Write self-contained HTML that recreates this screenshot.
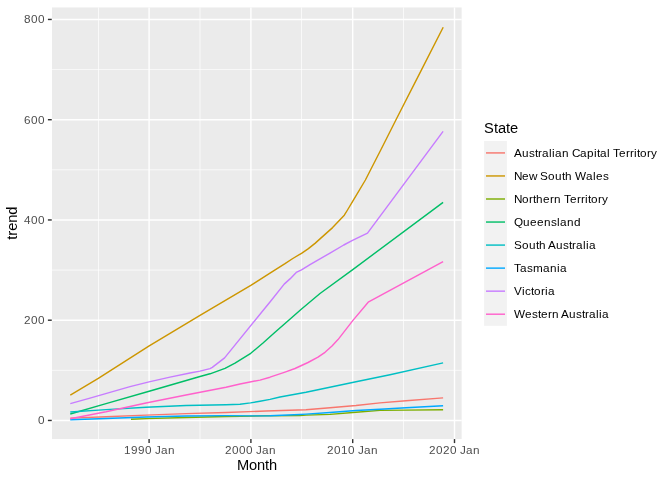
<!DOCTYPE html>
<html><head><meta charset="utf-8"><style>
html,body{margin:0;padding:0;background:#fff;width:672px;height:480px;overflow:hidden}
svg{display:block;font-family:"Liberation Sans",sans-serif;will-change:transform}
</style></head><body>
<svg width="672" height="480" viewBox="0 0 672 480">
<rect x="0" y="0" width="672" height="480" fill="#FFFFFF"/>
<rect x="52.0" y="7.45" width="409.65" height="431.60" fill="#EBEBEB"/>
<line x1="52.0" x2="461.65" y1="370.32" y2="370.32" stroke="#FFFFFF" stroke-width="0.71"/>
<line x1="52.0" x2="461.65" y1="270.07" y2="270.07" stroke="#FFFFFF" stroke-width="0.71"/>
<line x1="52.0" x2="461.65" y1="169.82" y2="169.82" stroke="#FFFFFF" stroke-width="0.71"/>
<line x1="52.0" x2="461.65" y1="69.57" y2="69.57" stroke="#FFFFFF" stroke-width="0.71"/>
<line y1="7.45" y2="439.05" x1="98.50" x2="98.50" stroke="#FFFFFF" stroke-width="0.71"/>
<line y1="7.45" y2="439.05" x1="200.00" x2="200.00" stroke="#FFFFFF" stroke-width="0.71"/>
<line y1="7.45" y2="439.05" x1="301.50" x2="301.50" stroke="#FFFFFF" stroke-width="0.71"/>
<line y1="7.45" y2="439.05" x1="403.50" x2="403.50" stroke="#FFFFFF" stroke-width="0.71"/>
<line x1="52.0" x2="461.65" y1="420.45" y2="420.45" stroke="#FFFFFF" stroke-width="1.42"/>
<line x1="52.0" x2="461.65" y1="320.20" y2="320.20" stroke="#FFFFFF" stroke-width="1.42"/>
<line x1="52.0" x2="461.65" y1="219.95" y2="219.95" stroke="#FFFFFF" stroke-width="1.42"/>
<line x1="52.0" x2="461.65" y1="119.70" y2="119.70" stroke="#FFFFFF" stroke-width="1.42"/>
<line x1="52.0" x2="461.65" y1="19.45" y2="19.45" stroke="#FFFFFF" stroke-width="1.42"/>
<line y1="7.45" y2="439.05" x1="149.10" x2="149.10" stroke="#FFFFFF" stroke-width="1.42"/>
<line y1="7.45" y2="439.05" x1="250.90" x2="250.90" stroke="#FFFFFF" stroke-width="1.42"/>
<line y1="7.45" y2="439.05" x1="352.70" x2="352.70" stroke="#FFFFFF" stroke-width="1.42"/>
<line y1="7.45" y2="439.05" x1="454.50" x2="454.50" stroke="#FFFFFF" stroke-width="1.42"/>
<polyline points="70.25,418.10 106.00,416.70 146.00,415.15 186.00,413.60 226.00,412.45 266.00,411.00 306.00,409.80 330.00,407.80 356.00,405.55 380.00,402.90 406.00,400.80 443.10,397.90" fill="none" stroke="#F8766D" stroke-width="1.42" stroke-linejoin="round" stroke-linecap="butt"/>
<polyline points="70.30,395.10 98.30,378.40 148.80,346.20 200.00,315.30 250.80,285.40 270.00,273.10 285.00,263.70 292.80,258.50 301.50,253.30 308.40,248.60 315.00,243.40 320.00,238.90 332.60,227.60 344.30,215.20 347.50,210.00 352.50,201.60 365.40,180.00 370.75,169.50 380.75,150.00 396.00,119.70 421.60,69.60 443.20,27.30" fill="none" stroke="#CD9600" stroke-width="1.42" stroke-linejoin="round" stroke-linecap="butt"/>
<polyline points="131.00,419.20 146.00,418.60 186.00,417.50 226.00,416.45 266.00,415.80 300.00,415.50 306.00,415.10 330.00,414.40 356.00,412.30 380.00,410.40 406.00,410.10 443.10,409.80" fill="none" stroke="#7CAE00" stroke-width="1.42" stroke-linejoin="round" stroke-linecap="butt"/>
<polyline points="70.25,414.00 106.00,403.60 150.00,391.00 200.00,376.50 210.00,373.80 225.00,368.30 235.00,363.10 250.75,353.30 263.00,343.00 275.00,332.20 289.30,319.70 301.25,309.20 320.00,293.50 352.75,269.60 443.10,202.40" fill="none" stroke="#00BE67" stroke-width="1.42" stroke-linejoin="round" stroke-linecap="butt"/>
<polyline points="70.25,412.00 106.00,409.60 146.00,407.20 186.00,405.50 226.00,404.70 240.00,404.20 250.50,402.90 260.00,401.25 270.00,399.40 280.00,397.00 306.00,392.30 356.00,381.80 390.00,374.80 443.10,362.90" fill="none" stroke="#00BFC4" stroke-width="1.42" stroke-linejoin="round" stroke-linecap="butt"/>
<polyline points="70.25,419.70 106.00,418.55 146.00,417.05 186.00,415.95 226.00,415.60 250.80,415.90 270.00,415.80 300.00,414.45 306.00,414.10 330.00,412.50 356.00,410.50 380.00,409.30 406.00,407.70 443.10,405.70" fill="none" stroke="#00A9FF" stroke-width="1.42" stroke-linejoin="round" stroke-linecap="butt"/>
<polyline points="70.30,403.60 90.00,398.10 130.00,386.60 149.06,381.90 170.00,377.10 190.00,372.96 200.00,371.10 210.00,368.60 212.30,367.40 224.60,357.90 271.40,300.20 284.20,284.10 290.00,278.90 296.25,272.40 301.50,269.90 310.00,264.60 330.00,253.10 343.75,245.00 352.50,240.30 367.50,233.10 443.10,131.40" fill="none" stroke="#C77CFF" stroke-width="1.42" stroke-linejoin="round" stroke-linecap="butt"/>
<polyline points="70.25,418.75 106.00,411.80 146.00,403.00 186.00,395.00 226.00,387.20 240.00,384.00 250.00,381.96 260.00,380.10 270.00,377.20 285.00,372.10 295.00,368.50 308.00,362.50 318.00,357.20 325.00,352.30 332.00,346.00 338.00,339.60 352.75,320.60 368.20,302.20 443.10,261.60" fill="none" stroke="#FF61CC" stroke-width="1.42" stroke-linejoin="round" stroke-linecap="butt"/>
<line x1="47.9" x2="51.75" y1="420.45" y2="420.45" stroke="#333333" stroke-width="1.42"/>
<line x1="47.9" x2="51.75" y1="320.20" y2="320.20" stroke="#333333" stroke-width="1.42"/>
<line x1="47.9" x2="51.75" y1="219.95" y2="219.95" stroke="#333333" stroke-width="1.42"/>
<line x1="47.9" x2="51.75" y1="119.70" y2="119.70" stroke="#333333" stroke-width="1.42"/>
<line x1="47.9" x2="51.75" y1="19.45" y2="19.45" stroke="#333333" stroke-width="1.42"/>
<line y1="439.1" y2="443.1" x1="149.10" x2="149.10" stroke="#333333" stroke-width="1.42"/>
<line y1="439.1" y2="443.1" x1="250.90" x2="250.90" stroke="#333333" stroke-width="1.42"/>
<line y1="439.1" y2="443.1" x1="352.70" x2="352.70" stroke="#333333" stroke-width="1.42"/>
<line y1="439.1" y2="443.1" x1="454.50" x2="454.50" stroke="#333333" stroke-width="1.42"/>
<text x="38.00" y="424.00" font-size="11.73" fill="#4D4D4D">0</text>
<text x="24.00 31.00 38.00" y="324.00" font-size="11.73" fill="#4D4D4D">200</text>
<text x="24.00 31.00 38.00" y="224.00" font-size="11.73" fill="#4D4D4D">400</text>
<text x="24.00 31.00 38.00" y="124.00" font-size="11.73" fill="#4D4D4D">600</text>
<text x="24.00 31.00 38.00" y="23.00" font-size="11.73" fill="#4D4D4D">800</text>
<text x="124.00 131.00 138.00 145.00 152.00 155.00 161.00 168.00" y="453.90" font-size="11.73" fill="#4D4D4D">1990 Jan</text>
<text x="225.00 232.00 239.00 246.00 253.00 256.00 262.00 269.00" y="453.90" font-size="11.73" fill="#4D4D4D">2000 Jan</text>
<text x="327.00 334.00 341.00 348.00 355.00 358.00 364.00 371.00" y="453.90" font-size="11.73" fill="#4D4D4D">2010 Jan</text>
<text x="429.00 436.00 443.00 450.00 457.00 460.00 466.00 473.00" y="453.90" font-size="11.73" fill="#4D4D4D">2020 Jan</text>
<text x="237.00 249.00 257.00 265.00 269.00" y="469.80" font-size="14.67" fill="#000000">Month</text>
<text x="-16.50 -12.50 -7.50 0.50 8.50" y="0.00" font-size="14.67" fill="#000000" transform="translate(17.4,223.35) rotate(-90)">trend</text>
<text x="484.00 494.00 498.00 506.00 510.00" y="132.75" font-size="14.67" fill="#000000">State</text>
<rect x="484.1" y="141.0" width="22.8" height="184.8" fill="#F2F2F2"/>
<line x1="486.0" x2="505.0" y1="152.92" y2="152.92" stroke="#F8766D" stroke-width="1.42"/>
<text x="514.00 522.00 529.00 535.00 538.00 542.00 549.00 552.00 555.00 562.00 569.00 572.00 580.00 587.00 594.00 597.00 600.00 607.00 610.00 613.00 619.00 626.00 630.00 634.00 637.00 640.00 647.00 651.00" y="157.00" font-size="11.73" fill="#000000">Australian Capital Territory</text>
<line x1="486.0" x2="505.0" y1="175.96" y2="175.96" stroke="#CD9600" stroke-width="1.42"/>
<text x="514.00 522.00 529.00 537.00 540.00 548.00 555.00 562.00 565.00 572.00 575.00 586.00 593.00 596.00 603.00" y="180.00" font-size="11.73" fill="#000000">New South Wales</text>
<line x1="486.0" x2="505.0" y1="199.00" y2="199.00" stroke="#7CAE00" stroke-width="1.42"/>
<text x="514.00 522.00 529.00 533.00 536.00 543.00 550.00 554.00 561.00 564.00 570.00 577.00 581.00 585.00 588.00 591.00 598.00 602.00" y="203.00" font-size="11.73" fill="#000000">Northern Territory</text>
<line x1="486.0" x2="505.0" y1="222.04" y2="222.04" stroke="#00BE67" stroke-width="1.42"/>
<text x="514.00 523.00 530.00 537.00 544.00 551.00 557.00 560.00 567.00 574.00" y="226.00" font-size="11.73" fill="#000000">Queensland</text>
<line x1="486.0" x2="505.0" y1="245.08" y2="245.08" stroke="#00BFC4" stroke-width="1.42"/>
<text x="514.00 522.00 529.00 536.00 539.00 546.00 548.00 556.00 563.00 569.00 572.00 576.00 583.00 586.00 589.00" y="249.00" font-size="11.73" fill="#000000">South Australia</text>
<line x1="486.0" x2="505.0" y1="268.12" y2="268.12" stroke="#00A9FF" stroke-width="1.42"/>
<text x="514.00 520.00 527.00 533.00 543.00 550.00 557.00 560.00" y="272.00" font-size="11.73" fill="#000000">Tasmania</text>
<line x1="486.0" x2="505.0" y1="291.16" y2="291.16" stroke="#C77CFF" stroke-width="1.42"/>
<text x="514.00 522.00 525.00 531.00 534.00 541.00 545.00 548.00" y="295.00" font-size="11.73" fill="#000000">Victoria</text>
<line x1="486.0" x2="505.0" y1="314.20" y2="314.20" stroke="#FF61CC" stroke-width="1.42"/>
<text x="514.00 525.00 532.00 538.00 541.00 548.00 552.00 559.00 561.00 569.00 576.00 582.00 585.00 589.00 596.00 599.00 602.00" y="318.00" font-size="11.73" fill="#000000">Western Australia</text>
</svg>
</body></html>
